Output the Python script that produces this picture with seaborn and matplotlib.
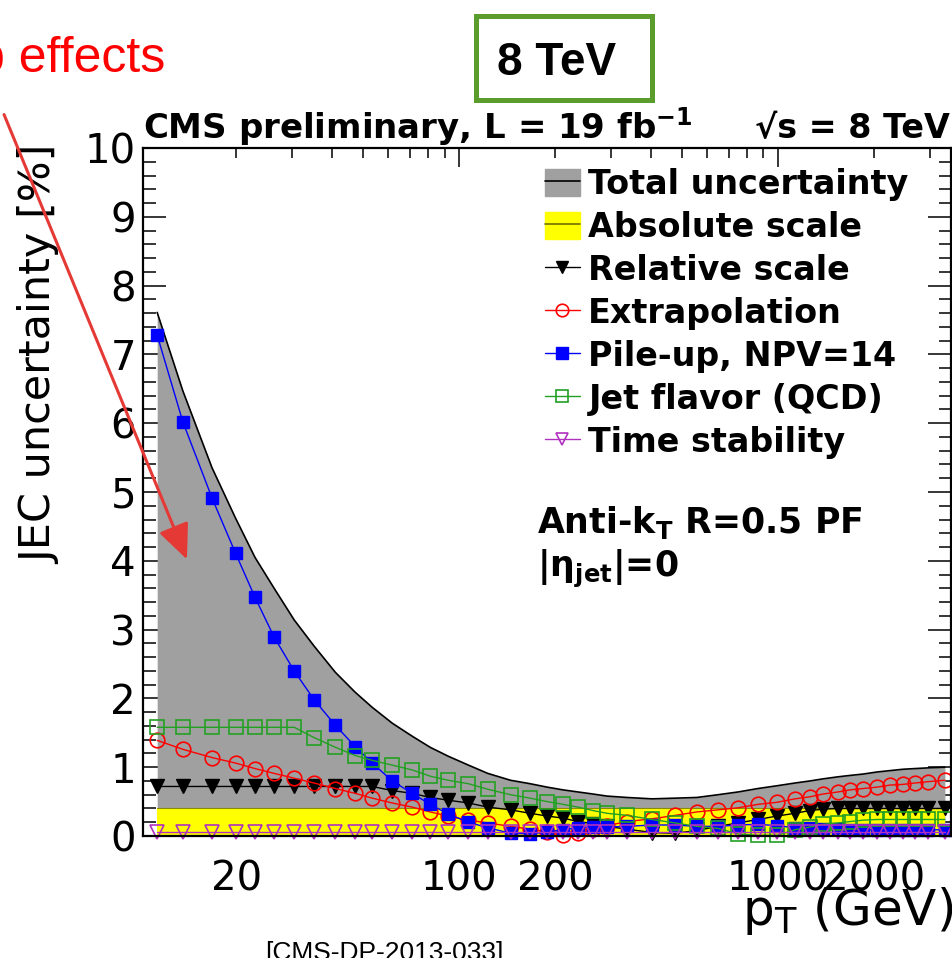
import numpy as np
import pandas as pd
import matplotlib
matplotlib.use("Agg")
import matplotlib.pyplot as plt
import seaborn as sns
from matplotlib.patches import Patch, Rectangle, FancyArrowPatch
from matplotlib.lines import Line2D

# ---------------- data ----------------
pt = [11.3, 13.6, 16.8, 19.9, 22.9, 26.3, 30.4, 35.1, 40.9, 47.2, 53.4, 61.7,
      71.3, 81.1, 92.4, 107, 123, 145, 167, 189, 212, 236, 263, 291, 336, 403,
      476, 557, 649, 750, 866, 993, 1131, 1260, 1384, 1542, 1682, 1848, 2044,
      2244, 2466, 2690, 2954, 3340]
total = [7.61, 6.47, 5.35, 4.62, 4.05, 3.60, 3.14, 2.76, 2.38, 2.09, 1.87, 1.64,
         1.45, 1.29, 1.16, 1.03, 0.91, 0.81, 0.76, 0.71, 0.67, 0.64, 0.61, 0.58,
         0.56, 0.54, 0.55, 0.56, 0.60, 0.64, 0.69, 0.73, 0.77, 0.80, 0.83, 0.86,
         0.88, 0.90, 0.93, 0.95, 0.97, 0.98, 0.99, 1.00]
absolute = [0.41] * 44
relative = [0.72, 0.72, 0.72, 0.72, 0.72, 0.72, 0.72, 0.72, 0.72, 0.72, 0.72, 0.66,
            0.62, 0.56, 0.52, 0.48, 0.42, 0.38, 0.33, 0.29, 0.26, 0.21, 0.18, 0.14,
            0.10, 0.05, 0.04, 0.08, 0.14, 0.19, 0.24, 0.29, 0.33, 0.37, 0.39, 0.40,
            0.40, 0.40, 0.40, 0.40, 0.40, 0.40, 0.40, 0.40]
extrapolation = [1.39, 1.26, 1.14, 1.06, 0.98, 0.91, 0.84, 0.77, 0.69, 0.62, 0.55, 0.48,
                 0.42, 0.35, 0.29, 0.23, 0.19, 0.14, 0.10, 0.06, 0.02, 0.05, 0.10, 0.15,
                 0.21, 0.25, 0.30, 0.35, 0.38, 0.41, 0.46, 0.49, 0.54, 0.57, 0.61, 0.64,
                 0.67, 0.69, 0.71, 0.74, 0.75, 0.77, 0.79, 0.81]
pileup = [7.28, 6.02, 4.91, 4.11, 3.47, 2.89, 2.40, 1.98, 1.61, 1.30, 1.06, 0.80,
          0.62, 0.46, 0.32, 0.20, 0.12, 0.04, 0.03, 0.06, 0.09, 0.12, 0.13, 0.13,
          0.14, 0.16, 0.16, 0.14, 0.14, 0.16, 0.17, 0.15, 0.12, 0.11, 0.10, 0.10,
          0.09, 0.09, 0.09, 0.09, 0.09, 0.09, 0.09, 0.09]
flavor = [1.58, 1.58, 1.58, 1.58, 1.58, 1.58, 1.58, 1.43, 1.29, 1.17, 1.10, 1.03,
          0.96, 0.87, 0.81, 0.76, 0.68, 0.60, 0.55, 0.50, 0.46, 0.42, 0.37, 0.33,
          0.30, 0.24, 0.19, 0.14, 0.11, 0.03, 0.01, 0.01, 0.09, 0.13, 0.17, 0.19,
          0.21, 0.23, 0.24, 0.24, 0.24, 0.24, 0.24, 0.24]
timestab = [0.06] * 44

legend_labels = ["Total uncertainty", "Absolute scale", "Relative scale",
                 "Extrapolation", "Pile-up, NPV=14", "Jet flavor (QCD)",
                 "Time stability"]
x_major = [100, 1000]
x_major_labels = ["100", "1000"]
x_minor = [20, 30, 40, 50, 60, 70, 80, 90, 200, 300, 400, 500, 600, 700, 800,
           900, 2000, 3000]
x_minor_labels = ["20", "", "", "", "", "", "", "", "200", "", "", "", "", "",
                  "", "", "2000", ""]
y_major = list(range(0, 11))
y_minor = [i / 5 for i in range(0, 51)]

df = pd.DataFrame({"pt": pt, "total": total, "absolute": absolute,
                   "relative": relative, "extrapolation": extrapolation,
                   "pileup": pileup, "flavor": flavor, "time": timestab})

# ---------------- style ----------------
sns.set_style("ticks")
plt.rcParams["font.family"] = ["DejaVu Sans"]
plt.rcParams["mathtext.fontset"] = "dejavusans"
for k in ["text.color", "axes.labelcolor", "xtick.color", "ytick.color",
          "axes.edgecolor"]:
    plt.rcParams[k] = "black"

W, H = 953, 958
fig = plt.figure(figsize=(W / 100, H / 100), dpi=100)
L, R, T, B = 143, 951, 148, 836
ax = fig.add_axes([L / W, 1 - B / H, (R - L) / W, (B - T) / H])

GRAY = "#a0a0a0"
GREEN = "#22a022"
PURPLE = "#b030c0"

ax.fill_between(df["pt"], 0, df["total"], color=GRAY, lw=0, zorder=1)
ax.fill_between(df["pt"], 0, df["absolute"], color="#ffff00", lw=0, zorder=1.1)
sns.lineplot(data=df, x="pt", y="total", ax=ax, color="black", lw=1.2,
             errorbar=None, zorder=1.2)
sns.lineplot(data=df, x="pt", y="absolute", ax=ax, color="#8c8c00", lw=0.8,
             errorbar=None, zorder=1.2)

common = dict(ax=ax, errorbar=None, lw=1.0, clip_on=False)
sns.lineplot(data=df, x="pt", y="relative", color="black", marker="v",
             markersize=10, mec="black", mfc="black", mew=1, zorder=4, **common)
sns.lineplot(data=df, x="pt", y="extrapolation", color="#ff0000", marker="o",
             markersize=10.5, mec="#ff0000", mfc="none", mew=1.2, zorder=5, **common)
sns.lineplot(data=df, x="pt", y="pileup", color="#0000ff", marker="s",
             markersize=9, mec="#0000ff", mfc="#0000ff", mew=1, zorder=6, **common)
sns.lineplot(data=df, x="pt", y="flavor", color=GREEN, marker="s",
             markersize=10, mec=GREEN, mfc="none", mew=1.2, zorder=7, **common)
sns.lineplot(data=df, x="pt", y="time", color=PURPLE, marker="v",
             markersize=10, mec=PURPLE, mfc="none", mew=1.2, zorder=8, **common)

# axes
ax.set_xscale("log")
ax.set_xlim(10.2, 3490)
ax.set_ylim(0, 10)
ax.set_xticks(x_major, labels=x_major_labels)
ax.set_xticks(x_minor, labels=x_minor_labels, minor=True)
ax.set_yticks(y_major, labels=[str(v) for v in y_major])
ax.set_yticks(y_minor, minor=True)
ax.set_xlabel("")
ax.set_ylabel("")
for s in ax.spines.values():
    s.set_linewidth(1.6)
    s.set_visible(True)
    s.set_color("black")
    s.set_zorder(10)
ax.tick_params(axis="x", which="major", direction="in", length=14, width=1.1,
               top=True, bottom=True, labelsize=29, pad=17, colors="black")
ax.tick_params(axis="x", which="minor", direction="in", length=7, width=1.1,
               top=True, bottom=True, labelsize=29, pad=17, colors="black")
ax.tick_params(axis="y", which="major", direction="in", length=16.5, width=1.1,
               left=True, right=True, labelsize=29, pad=5, colors="black")
ax.tick_params(axis="y", which="minor", direction="in", length=9, width=1.1,
               left=True, right=True, colors="black")

# legend
handles = [
    (Patch(facecolor=GRAY, edgecolor=GRAY), Line2D([], [], color="black", lw=1.2)),
    (Patch(facecolor="#ffff00", edgecolor="#ffff00"), Line2D([], [], color="#707000", lw=1.2)),
    Line2D([], [], color="black", lw=1, marker="v", ms=9, mfc="black", mec="black"),
    Line2D([], [], color="#ff0000", lw=1, marker="o", ms=9, mfc="none", mec="#ff0000", mew=1.2),
    Line2D([], [], color="#0000ff", lw=1, marker="s", ms=8, mfc="#0000ff", mec="#0000ff"),
    Line2D([], [], color=GREEN, lw=1, marker="s", ms=9, mfc="none", mec=GREEN, mew=1.2),
    Line2D([], [], color=PURPLE, lw=1, marker="v", ms=9, mfc="none", mec=PURPLE, mew=1.2),
]
leg = ax.legend(handles, legend_labels, loc="upper left",
                bbox_to_anchor=((545 - L) / (R - L), (B - 168) / (B - T)),
                bbox_transform=ax.transAxes, frameon=False, borderpad=0,
                borderaxespad=0, handlelength=1.05, handleheight=0.9,
                handletextpad=0.25, labelspacing=0.30,
                prop={"family": "DejaVu Sans", "weight": "bold", "size": 24})

# in-plot texts
ax.text((537 - L) / (R - L), (B - 533) / (B - T), r"Anti-k$_{\mathbf{T}}$ R=0.5 PF",
        transform=ax.transAxes, fontsize=25, fontweight="bold", va="baseline",
        ha="left")
ax.text((537 - L) / (R - L), (B - 577) / (B - T), "|η$_{\\mathbf{jet}}$|=0",
        transform=ax.transAxes, fontsize=25, fontweight="bold", va="baseline",
        ha="left")

# outside texts
fig.text(L / W, 1 - 138 / H, r"CMS preliminary, L = 19 fb$^{\mathbf{-1}}$",
         fontsize=24.5, fontweight="bold", ha="left", va="baseline")
fig.text(755 / W, 1 - 138 / H, "√s = 8 TeV",
         fontsize=24, fontweight="bold", ha="left", va="baseline")
fig.text(40 / W, 1 - 355 / H, "JEC uncertainty [%]", rotation=90,
         fontsize=31, ha="center", va="center")
fig.text(742 / W, 1 - 925 / H, r"p$_{\mathregular{T}}$ (GeV)", fontsize=36,
         ha="left", va="baseline")
fig.text(265 / W, 1 - 960 / H, "[CMS-DP-2013-033]", fontsize=19,
         family="Liberation Sans", ha="left", va="baseline")

# slide annotations
fig.text(165 / W, 1 - 72 / H, "Pile-up effects", fontsize=36, color="#ff0000",
         family="Liberation Sans", ha="right", va="baseline")
box = Rectangle((476.5 / W, 1 - 99.5 / H), (652.5 - 476.5) / W, 84 / H,
                transform=fig.transFigure, facecolor="white",
                edgecolor="#5a9d2c", lw=3.6)
fig.add_artist(box)
fig.text(497 / W, 1 - 75 / H, "8 TeV", fontsize=33, fontweight="bold",
         family="Liberation Sans", ha="left", va="baseline")
arrow = FancyArrowPatch((3 / W, 1 - 112 / H), (188 / W, 1 - 562 / H),
                        transform=fig.transFigure,
                        arrowstyle="-|>,head_length=0.9,head_width=0.4",
                        mutation_scale=24, color="#e53935", lw=2.2, zorder=20)
fig.add_artist(arrow)

fig.savefig("out.png", dpi=100)
